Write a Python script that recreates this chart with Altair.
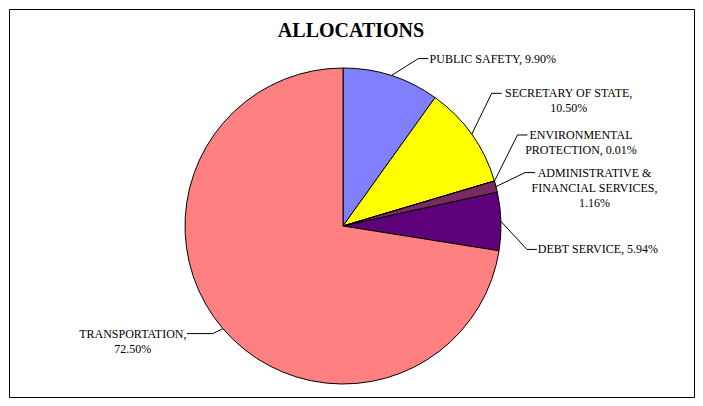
import altair as alt
import pandas as pd
import numpy as np

# ---- data ----
categories = ["PUBLIC SAFETY", "SECRETARY OF STATE", "ENVIRONMENTAL PROTECTION",
              "ADMINISTRATIVE & FINANCIAL SERVICES", "DEBT SERVICE", "TRANSPORTATION"]
shares = [9.90, 10.50, 0.01, 1.16, 5.94, 72.50]
label_texts = ["PUBLIC SAFETY, 9.90%",
               "SECRETARY OF STATE,\n10.50%",
               "ENVIRONMENTAL\nPROTECTION, 0.01%",
               "ADMINISTRATIVE &\nFINANCIAL SERVICES,\n1.16%",
               "DEBT SERVICE, 5.94%",
               "TRANSPORTATION,\n72.50%"]
title_text = "ALLOCATIONS"

# ---- style / layout ----
colors = ["#8080FF", "#FFFF00", "#CCFFFF", "#7A2A62", "#5E0079", "#FF8080"]
PAD = 1
OFF = 8 + PAD            # page offset of the view origin
W, H = 687 - 2 * PAD, 390 - 2 * PAD
CX, CY, R = 343 - OFF, 226 - OFF, 158
elbow_dx = [27, 20, 23, 29, 26, -10]
elbow_dy = [-17, -41, -46, -14, 28, 5]
tip_len = [10, 10, 10, 10, 10, -26]
text_dx = [64.5, 67, 53.5, 59.5, 61, -54]
FONT = "Liberation Serif"

# ---- derived tables ----
total = sum(shares)
cum = np.cumsum(shares)
mid = (cum - np.array(shares) / 2) / total * 2 * np.pi
ex = CX + R * np.sin(mid)
ey = CY - R * np.cos(mid)
bx = ex + np.array(elbow_dx)
by = ey + np.array(elbow_dy)
tx = bx + np.array(tip_len)

pie_df = pd.DataFrame({"cat": categories, "share": shares, "idx": range(len(shares))})

rows = []
for i, c in enumerate(categories):
    rows.append({"cat": c, "pt": 0, "x": ex[i], "y": ey[i]})
    rows.append({"cat": c, "pt": 1, "x": bx[i], "y": by[i]})
    rows.append({"cat": c, "pt": 2, "x": tx[i], "y": by[i]})
lead_df = pd.DataFrame(rows)

lab_df = pd.DataFrame({"cat": categories, "label": label_texts,
                       "x": tx + np.array(text_dx), "y": by})

xs = alt.Scale(domain=[0, W], range=[0, W], zero=False, nice=False)
ys = alt.Scale(domain=[0, H], range=[0, H], zero=False, nice=False)

pie = alt.Chart(pie_df).mark_arc(radius=R, stroke="black", strokeWidth=1).encode(
    theta=alt.Theta("share:Q", stack=True),
    order=alt.Order("idx:Q"),
    color=alt.Color("cat:N", scale=alt.Scale(domain=categories, range=colors), legend=None),
    x=alt.value(CX),
    y=alt.value(CY),
)

leaders = alt.Chart(lead_df).mark_line(color="black", strokeWidth=1).encode(
    x=alt.X("x:Q", scale=xs, axis=None),
    y=alt.Y("y:Q", scale=ys, axis=None),
    detail="cat:N",
    order="pt:Q",
)

labels = alt.Chart(lab_df).mark_text(
    lineBreak="\n", align="center", baseline="middle",
    font=FONT, fontSize=12, lineHeight=15, color="black"
).encode(
    x=alt.X("x:Q", scale=xs, axis=None),
    y=alt.Y("y:Q", scale=ys, axis=None),
    text="label:N",
)

title = alt.Chart(pd.DataFrame({"t": [title_text]})).mark_text(
    font=FONT, fontSize=20, fontWeight="bold", align="center", baseline="middle", color="black"
).encode(x=alt.value(351 - OFF), y=alt.value(31 - OFF), text="t:N")

chart = alt.layer(pie, leaders, labels, title).properties(
    width=W, height=H, autosize="none", padding=PAD, background="white"
).configure_view(stroke="black", strokeWidth=1)

chart.save("out.html", embed_options={"renderer": "svg", "actions": False})
